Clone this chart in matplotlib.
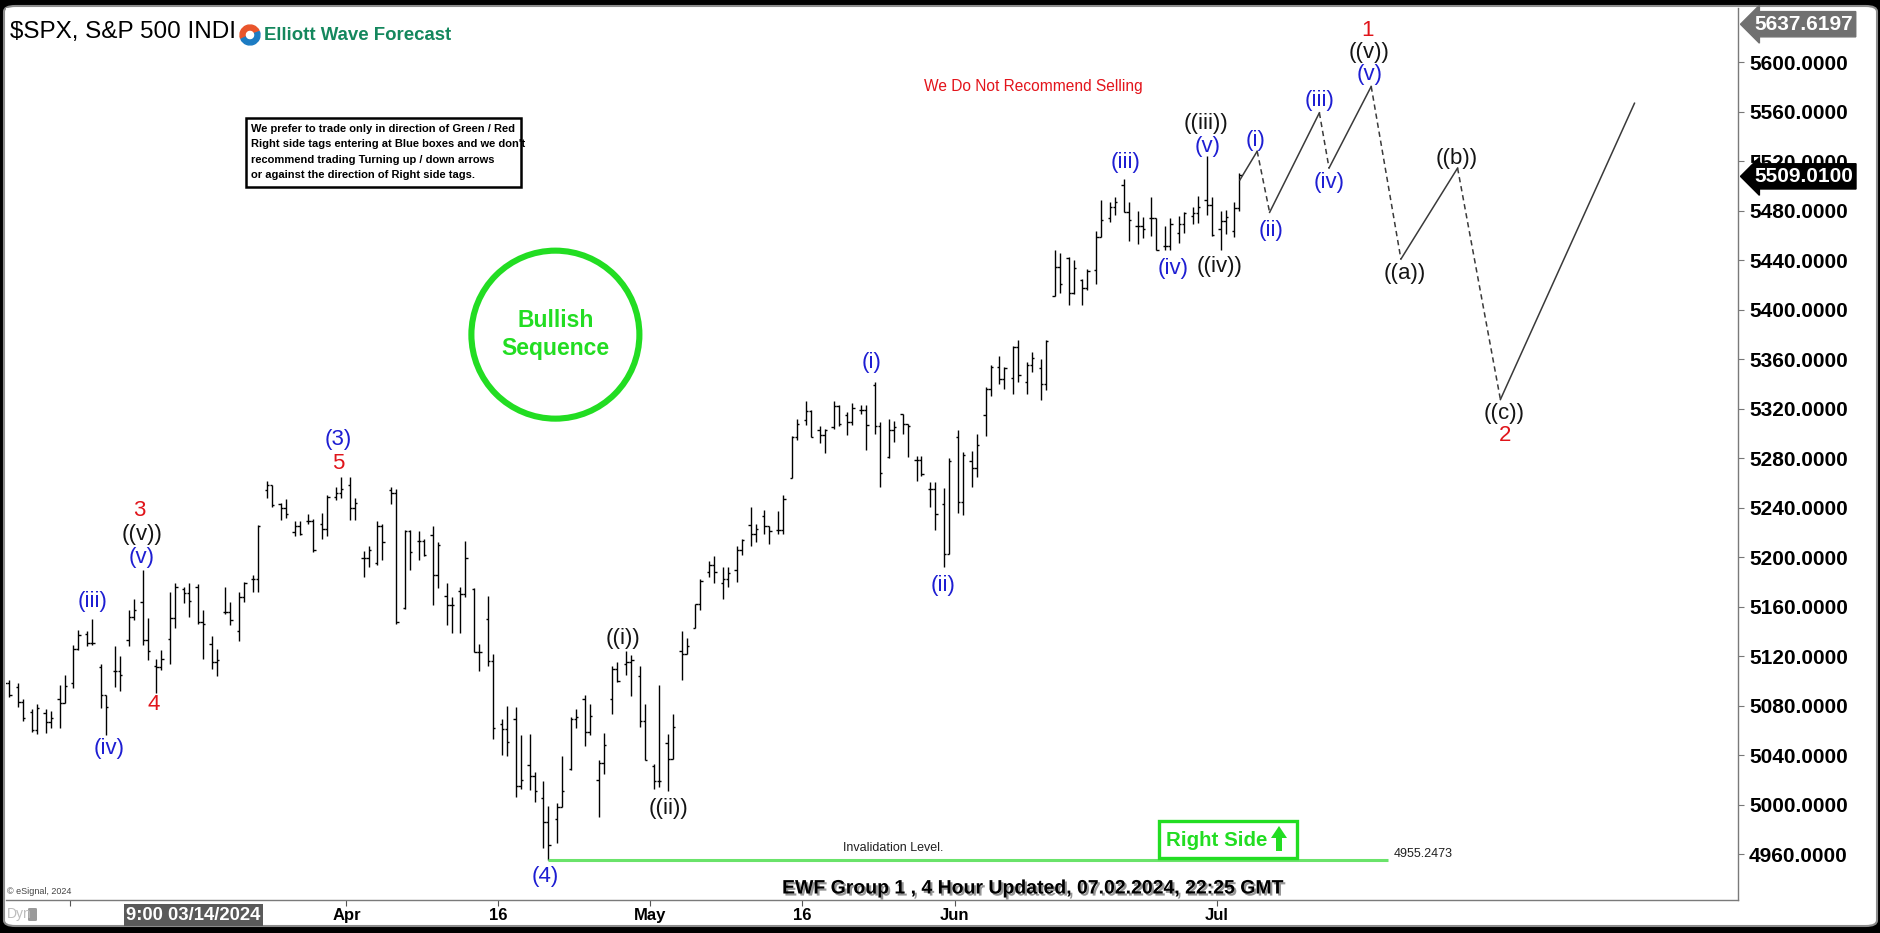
import numpy as np
import pandas as pd
import matplotlib
matplotlib.use("Agg")
import matplotlib.pyplot as plt
from matplotlib import patches, transforms, patheffects, font_manager

W, H = 1881, 933

# ---------------------------------------------------------------- data
# 4-hour S&P 500 bars: two bars per trading session
sessions = pd.bdate_range("2024-02-23", "2024-07-02", freq="C",
                          holidays=["2024-03-29", "2024-05-27", "2024-06-19"])

bar_open = [
    5103, 5098, 5095, 5083, 5075, 5060, 5074, 5067, 5085, 5082,
    5098, 5126, 5138, 5131, 5111, 5089, 5108, 5108, 5133, 5152,
    5164, 5133, 5112, 5111, 5134, 5151, 5174, 5171, 5176, 5148,
    5130, 5115, 5156, 5156, 5140, 5168, 5182, 5182, 5254, 5258,
    5243, 5240, 5220, 5225, 5229, 5229, 5227, 5223, 5249, 5252,
    5258, 5240, 5199, 5199, 5195, 5225, 5254, 5252, 5159, 5221,
    5213, 5213, 5218, 5186, 5169, 5161, 5173, 5170, 5174, 5123,
    5150, 5116, 5065, 5061, 5069, 5015, 5032, 5023, 5005, 4986,
    4988, 4998, 5029, 5069, 5085, 5059, 5020, 5034, 5085, 5110,
    5114, 5115, 5104, 5068, 5031, 5019, 5050, 5037, 5124, 5122,
    5143, 5162, 5188, 5194, 5179, 5182, 5190, 5206, 5226, 5219,
    5233, 5225, 5222, 5222, 5264, 5297, 5311, 5318, 5303, 5299,
    5305, 5322, 5315, 5309, 5319, 5319, 5339, 5306, 5281, 5303,
    5316, 5308, 5279, 5279, 5255, 5255, 5243, 5203, 5297, 5245,
    5278, 5272, 5315, 5336, 5354, 5344, 5345, 5370, 5342, 5355,
    5353, 5340, 5411, 5435, 5442, 5414, 5424, 5418, 5432, 5459,
    5474, 5483, 5501, 5479, 5468, 5468, 5474, 5474, 5452, 5452,
    5462, 5469, 5476, 5478, 5489, 5485, 5465, 5472, 5464, 5482,
]
bar_high = [
    5111, 5101, 5098, 5085, 5077, 5081, 5077, 5076, 5097, 5105,
    5129, 5141, 5140, 5150, 5114, 5089, 5128, 5120, 5157, 5166,
    5190, 5151, 5118, 5125, 5172, 5179, 5176, 5179, 5178, 5157,
    5136, 5126, 5176, 5164, 5172, 5180, 5186, 5226, 5262, 5258,
    5244, 5247, 5229, 5229, 5235, 5231, 5236, 5250, 5257, 5265,
    5265, 5248, 5205, 5209, 5229, 5227, 5257, 5255, 5222, 5222,
    5221, 5215, 5225, 5212, 5179, 5168, 5176, 5213, 5175, 5130,
    5169, 5122, 5069, 5080, 5079, 5056, 5057, 5026, 5019, 4999,
    5001, 5039, 5071, 5077, 5089, 5081, 5036, 5058, 5112, 5115,
    5124, 5121, 5112, 5081, 5033, 5097, 5057, 5073, 5140, 5135,
    5162, 5182, 5197, 5201, 5192, 5192, 5209, 5215, 5241, 5227,
    5238, 5225, 5237, 5250, 5298, 5312, 5326, 5319, 5306, 5304,
    5326, 5323, 5317, 5325, 5323, 5323, 5342, 5309, 5312, 5310,
    5316, 5308, 5282, 5282, 5261, 5261, 5256, 5280, 5303, 5285,
    5286, 5300, 5338, 5355, 5363, 5354, 5371, 5376, 5358, 5366,
    5360, 5376, 5448, 5446, 5443, 5440, 5425, 5433, 5464, 5489,
    5487, 5491, 5506, 5487, 5480, 5475, 5491, 5474, 5468, 5474,
    5476, 5479, 5483, 5492, 5524, 5491, 5480, 5481, 5487, 5511,
]
bar_low = [
    5081, 5087, 5079, 5068, 5059, 5057, 5058, 5062, 5062, 5082,
    5094, 5125, 5128, 5129, 5078, 5056, 5095, 5092, 5128, 5149,
    5129, 5117, 5090, 5109, 5114, 5143, 5163, 5152, 5146, 5118,
    5110, 5104, 5154, 5145, 5132, 5164, 5172, 5172, 5248, 5241,
    5230, 5232, 5217, 5218, 5227, 5204, 5215, 5217, 5246, 5248,
    5230, 5230, 5184, 5192, 5194, 5198, 5243, 5146, 5158, 5190,
    5198, 5201, 5161, 5175, 5145, 5139, 5139, 5168, 5123, 5108,
    5112, 5053, 5040, 5039, 5006, 5013, 5012, 5002, 4965, 4955.25,
    4969, 4998, 5028, 5062, 5047, 5056, 4990, 5025, 5073, 5099,
    5105, 5088, 5063, 5036, 5013, 5014, 5011, 5037, 5101, 5122,
    5143, 5157, 5184, 5179, 5166, 5176, 5180, 5202, 5209, 5212,
    5219, 5211, 5219, 5219, 5264, 5295, 5307, 5297, 5292, 5284,
    5304, 5306, 5299, 5307, 5316, 5287, 5300, 5257, 5280, 5293,
    5300, 5281, 5262, 5266, 5241, 5222, 5192, 5203, 5236, 5234,
    5257, 5265, 5298, 5330, 5340, 5336, 5332, 5342, 5332, 5350,
    5327, 5335, 5411, 5414, 5404, 5413, 5404, 5416, 5421, 5459,
    5471, 5477, 5479, 5456, 5453, 5458, 5460, 5448, 5448, 5448,
    5454, 5462, 5469, 5470, 5477, 5460, 5448, 5461, 5459, 5480,
]
bar_close = [
    5098, 5089, 5083, 5070, 5060, 5078, 5067, 5070, 5082, 5096,
    5126, 5137, 5131, 5131, 5089, 5079, 5108, 5105, 5152, 5157,
    5133, 5124, 5111, 5118, 5151, 5176, 5171, 5165, 5148, 5146,
    5115, 5117, 5156, 5149, 5168, 5179, 5182, 5225, 5258, 5242,
    5240, 5235, 5225, 5219, 5229, 5206, 5223, 5249, 5252, 5255,
    5240, 5244, 5199, 5206, 5225, 5212, 5252, 5148, 5221, 5204,
    5213, 5202, 5186, 5210, 5161, 5161, 5170, 5199, 5123, 5123,
    5116, 5062, 5061, 5051, 5015, 5020, 5023, 5011, 4986, 4967,
    4998, 5011, 5069, 5071, 5059, 5072, 5034, 5048, 5110, 5100,
    5115, 5117, 5068, 5036, 5019, 5019, 5037, 5063, 5122, 5128,
    5162, 5181, 5194, 5188, 5182, 5187, 5206, 5214, 5219, 5223,
    5225, 5221, 5222, 5247, 5297, 5308, 5318, 5297, 5299, 5303,
    5322, 5308, 5309, 5321, 5319, 5307, 5306, 5268, 5303, 5305,
    5308, 5306, 5279, 5267, 5255, 5235, 5203, 5278, 5245, 5283,
    5272, 5291, 5336, 5354, 5344, 5353, 5370, 5347, 5355, 5361,
    5340, 5375, 5435, 5421, 5414, 5434, 5418, 5431, 5459, 5473,
    5483, 5487, 5479, 5473, 5468, 5465, 5474, 5448, 5452, 5469,
    5469, 5478, 5478, 5483, 5485, 5460.5, 5472, 5475, 5482, 5509.01,
]

tick_dates = ["2024-03-01", "2024-04-01", "2024-04-16", "2024-05-01",
              "2024-05-16", "2024-06-03", "2024-07-01"]
tick_labels = ["", "Apr", "16", "May", "16", "Jun", "Jul"]

price_ticks = list(range(4960, 5601, 40))
last_price = 5509.01
top_price = 5637.6197
invalidation = 4955.2473

# wave count labels: text, session position, price, colour key
wave_labels = [
    ("(iii)", 6.62, 5164.6, "b"), ("(iv)", 7.83, 5045.3, "b"),
    ("(v)", 10.18, 5199.5, "b"), ("((v))", 10.18, 5218.0, "k"),
    ("3", 10.0, 5237.4, "r"), ("4", 11.04, 5081.3, "r"),
    ("(3)", 24.4, 5295.5, "b"), ("5", 24.4, 5276.0, "r"),
    ("(4)", 39.4, 4941.5, "b"),
    ("((i))", 45.0, 5134.7, "k"), ("((ii))", 48.3, 4996.8, "k"),
    ("(i)", 63.0, 5357.6, "b"), ("(ii)", 68.2, 5177.2, "b"),
    ("(iii)", 81.4, 5518.7, "b"), ("(iv)", 84.8, 5433.2, "b"),
    ("((iii))", 87.2, 5550.5, "k"), ("(v)", 87.3, 5532.0, "b"),
    ("((iv))", 88.2, 5435.0, "k"),
    ("(i)", 90.8, 5537.0, "b"), ("(ii)", 91.9, 5464.3, "b"),
    ("(iii)", 95.4, 5569.0, "b"), ("(iv)", 96.1, 5503.0, "b"),
    ("1", 98.9, 5626.0, "r"), ("((v))", 99.0, 5607.8, "k"),
    ("(v)", 99.0, 5590.3, "b"),
    ("((a))", 101.6, 5429.3, "k"), ("((b))", 105.3, 5522.5, "k"),
    ("((c))", 108.8, 5316.0, "k"), ("2", 108.8, 5298.4, "r"),
]

# projected path: impulse legs solid, corrective legs dashed
path_x = [89.65, 90.9, 91.8, 95.4, 96.1, 99.15, 101.3, 105.4, 108.5, 118.2]
path_y = [5505, 5528.2, 5478.8, 5559.3, 5514.6, 5580.6, 5441, 5514.6, 5327.5, 5567]
path_dashed = [False, True, False, True, False, True, False, True, False]

# ---------------------------------------------------------------- fonts
installed = {f.name for f in font_manager.fontManager.ttflist}
HAS_NARROW = "Liberation Sans Narrow" in installed
NARROW = "Liberation Sans Narrow" if HAS_NARROW else "Liberation Sans"
SZ = {  # condensed face sizes, with equivalents for the regular face
    "note": 8.6 if HAS_NARROW else 8.0,
    "footer": 15 if HAS_NARROW else 14,
    "xtick": 14.5 if HAS_NARROW else 12,
    "tag": 18 if HAS_NARROW else 14.8,
    "small": 11 if HAS_NARROW else 9,
    "cursor": 14.5 if HAS_NARROW else 13.3,
}
plt.rcParams["font.family"] = ["Liberation Sans", "DejaVu Sans"]

COLORS = {"b": "#1e1ed2", "r": "#e0141a", "k": "#151515"}
GREEN = "#22dd22"


def fx(px):
    return px / W


def fy(py):
    return 1 - py / H


# ---------------------------------------------------------------- figure
fig = plt.figure(figsize=(W / 100, H / 100), dpi=100, facecolor="black")
panel = patches.FancyBboxPatch((fx(4), fy(926)), (1877 - 4) / W, (926 - 6) / H,
                               boxstyle="round,pad=0,rounding_size=0.006",
                               transform=fig.transFigure, facecolor="white",
                               edgecolor="#8c8c8c", lw=1.5, zorder=-5)
fig.patches.append(panel)

ax = fig.add_axes([fx(6), fy(900), (1738 - 6) / W, (900 - 8) / H])
ax.set_facecolor("white")
ax.set_xlim(0.37, 125.69)
ax.set_ylim(4922.9, 5644.0)

# OHLC bars
n = len(sessions)
bar_x = np.repeat(np.arange(n), 2) + np.tile([0.25, 0.61], n)
tick_w = 0.17
ax.vlines(bar_x, bar_low, bar_high, color="black", lw=1.0)
ax.hlines(bar_open, bar_x - tick_w, bar_x, color="black", lw=1.0)
ax.hlines(bar_close, bar_x, bar_x + tick_w, color="black", lw=1.0)

# invalidation level
low_idx = int(np.argmin(bar_low))
ax.plot([bar_x[low_idx], 100.4], [invalidation, invalidation],
        color="#6ae36a", lw=2.2, solid_capstyle="butt")
ax.text(60.9, invalidation + 4.5, "Invalidation Level.", family=NARROW,
        fontsize=SZ["small"], color="#202020", ha="left", va="bottom")
ax.text(100.75, invalidation + 5, f"{invalidation:.4f}", family=NARROW,
        fontsize=SZ["small"], color="#202020", ha="left", va="center")

# projected path
for i, dashed in enumerate(path_dashed):
    seg_x = path_x[i:i + 2]
    seg_y = path_y[i:i + 2]
    if dashed:
        ax.plot(seg_x, seg_y, color="#3a3a3a", lw=1.1, dashes=(3.5, 2.5))
    else:
        ax.plot(seg_x, seg_y, color="#3a3a3a", lw=1.1)

# wave labels
for text, x, y, c in wave_labels:
    ax.text(x, y, text, color=COLORS[c], fontsize=16, ha="center", va="center")

# bullish sequence badge
circ = patches.Ellipse((0.3172, 0.6338), 168 / 1732, 168 / 892,
                       transform=ax.transAxes, fill=False, edgecolor=GREEN, lw=4.4)
ax.add_patch(circ)
ax.text(0.3172, 0.6338, "Bullish\nSequence", transform=ax.transAxes,
        color=GREEN, fontsize=16.5, weight="bold", ha="center", va="center",
        linespacing=1.25)

# axes styling
for side in ("left", "top"):
    ax.spines[side].set_visible(False)
for side in ("right", "bottom"):
    ax.spines[side].set_color("#7a7a7a")
    ax.spines[side].set_linewidth(1.0)

ax.yaxis.tick_right()
ax.set_yticks(price_ticks)
ax.set_yticklabels([f"{p:.4f}" for p in price_ticks])
ax.tick_params(axis="y", length=4, color="#777777", pad=4, labelsize=15)
for lbl in ax.get_yticklabels():
    lbl.set_fontweight("bold")

tick_pos = sessions.get_indexer(pd.to_datetime(tick_dates))
ax.set_xticks(tick_pos)
ax.set_xticklabels(tick_labels)
ax.tick_params(axis="x", length=4, color="#555555", pad=2)
for lbl in ax.get_xticklabels():
    lbl.set_fontweight("bold")
    lbl.set_family(NARROW)
    lbl.set_fontsize(SZ["xtick"])

# right-hand price markers
trans = transforms.blended_transform_factory(ax.transAxes, ax.transData)
ax.annotate(f"{last_price:.4f}", xy=(1 + 16 / 1732, last_price), xycoords=trans,
            xytext=(0, -1), textcoords="offset points",
            ha="left", va="center", color="white", fontsize=15, weight="bold",
            bbox=dict(boxstyle="larrow,pad=0.15", fc="black", ec="black"),
            annotation_clip=False, zorder=10)
ax.annotate(f"{top_price:.4f}", xy=(1 + 16 / 1732, top_price), xycoords=trans,
            xytext=(0, -6), textcoords="offset points",
            ha="left", va="center", color="white", fontsize=15, weight="bold",
            bbox=dict(boxstyle="larrow,pad=0.15", fc="#707070", ec="#707070"),
            annotation_clip=False, zorder=10)

# ---------------------------------------------------------------- header
fig.text(fx(10), fy(32), "$SPX, S&P 500 INDI", fontsize=17.5, color="black",
         ha="left", va="center")
logo = fig.add_axes([fx(239), fy(46), 22 / W, 22 / H])
logo.set_xlim(-1.1, 1.1)
logo.set_ylim(-1.1, 1.1)
logo.axis("off")
logo.add_patch(patches.Wedge((0, 0), 1, 25, 200, width=0.5, color="#e9552c"))
logo.add_patch(patches.Wedge((0, 0), 1, 205, 380, width=0.5, color="#1d7cc3"))
fig.text(fx(264), fy(35), "Elliott Wave Forecast", fontsize=13.4, weight="bold",
         color="#14875d", ha="left", va="center")

# trading note box
fig.patches.append(patches.Rectangle((fx(246), fy(187)), 275 / W, 69.5 / H,
                                     transform=fig.transFigure, fill=True,
                                     facecolor="white", edgecolor="black",
                                     lw=1.8, zorder=5))
note_lines = ["We prefer to trade only in direction of Green / Red",
              "Right side tags entering at Blue boxes and we don't",
              "recommend trading Turning up / down arrows",
              "or against the direction of Right side tags."]
for k, line in enumerate(note_lines):
    fig.text(fx(251), fy(129 + 15.3 * k), line, family=NARROW,
             fontsize=SZ["note"], weight="bold", color="black",
             ha="left", va="center", zorder=6)

fig.text(fx(1033), fy(86), "We Do Not Recommend Selling", fontsize=11.2,
         color="#e3141b", ha="center", va="center")

# right side tag
fig.patches.append(patches.Rectangle((fx(1159), fy(857.5)), 138 / W, 37 / H,
                                     transform=fig.transFigure, facecolor="white",
                                     edgecolor=GREEN, lw=2.4, zorder=5))
fig.text(fx(1166), fy(840), "Right Side", family=NARROW, fontsize=SZ["tag"],
         weight="bold", color=GREEN, ha="left", va="center", zorder=6)
arrow_px = [(1279, 826), (1287, 838), (1282, 838), (1282, 851),
            (1276, 851), (1276, 838), (1271, 838)]
fig.patches.append(patches.Polygon([(fx(a), fy(b)) for a, b in arrow_px],
                                   closed=True, transform=fig.transFigure,
                                   facecolor=GREEN, edgecolor="none", zorder=6))

# footer
fig.text(fx(1033), fy(889), "EWF Group 1 , 4 Hour Updated, 07.02.2024, 22:25 GMT",
         family=NARROW, fontsize=SZ["footer"], weight="bold", color="black",
         ha="center", va="center",
         path_effects=[patheffects.withSimplePatchShadow(
             offset=(1.5, -1.5), shadow_rgbFace="#8a8a8a", alpha=0.9)])
fig.text(fx(7), fy(891), "\u00a9 eSignal, 2024", fontsize=6.5, color="#444444",
         ha="left", va="center")
fig.text(fx(126), fy(915), "9:00 03/14/2024", family=NARROW,
         fontsize=SZ["cursor"], weight="bold", color="white", ha="left",
         va="center", bbox=dict(boxstyle="square,pad=0.12", fc="#5a5a5a", ec="none"))
fig.text(fx(7), fy(914), "Dyn", family=NARROW, fontsize=10, color="#bdbdbd",
         ha="left", va="center")
fig.patches.append(patches.FancyBboxPatch((fx(28), fy(921)), 9 / W, 13 / H,
                                          boxstyle="round,pad=0,rounding_size=0.001",
                                          transform=fig.transFigure,
                                          facecolor="#9a9a9a", edgecolor="none"))

fig.savefig("out.png", dpi=100, facecolor=fig.get_facecolor())
